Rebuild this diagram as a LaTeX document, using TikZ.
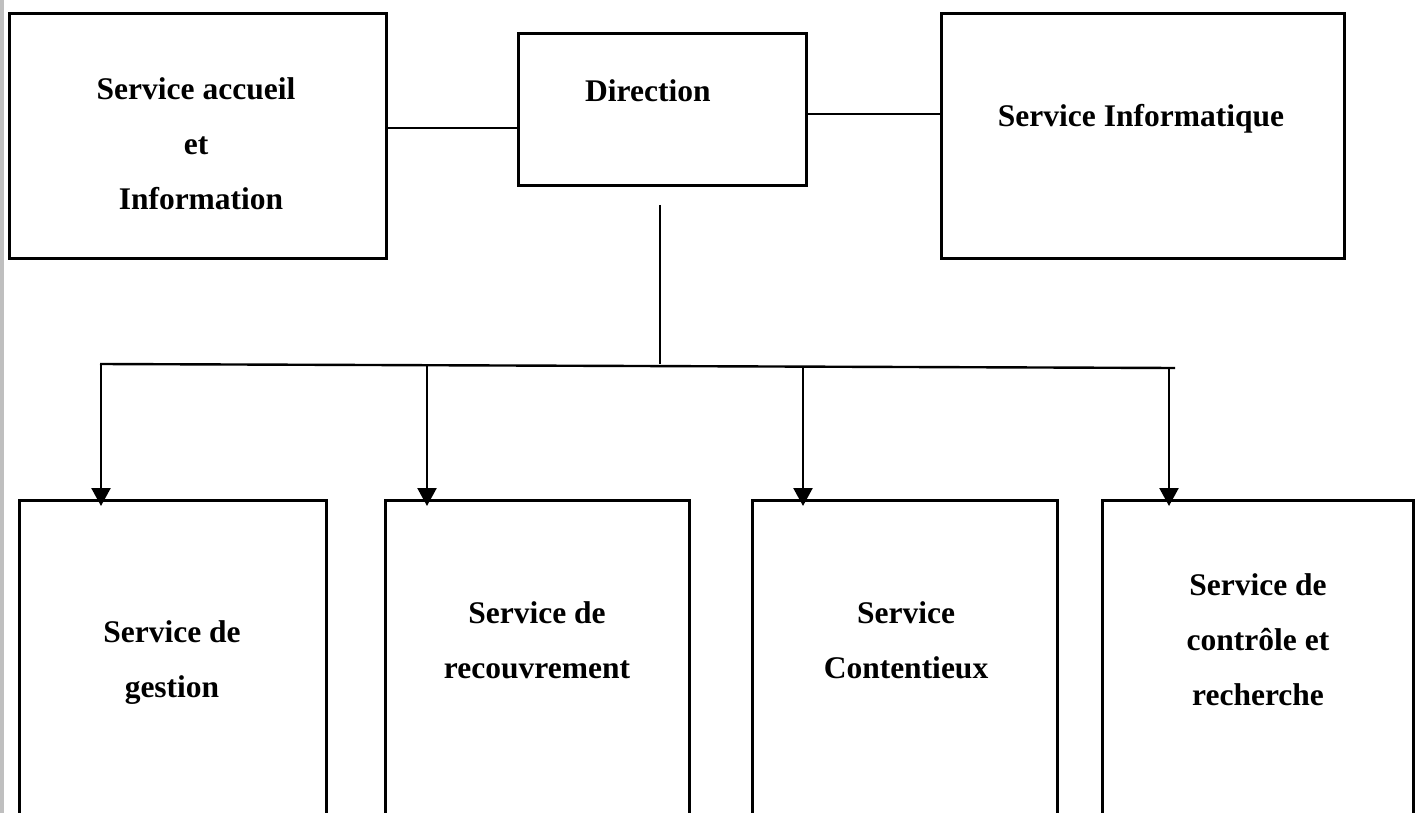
\documentclass[tikz,border=0pt]{standalone}
\usepackage{fontspec}
\setmainfont{Liberation Serif}
\usetikzlibrary{arrows.meta}
\begin{document}
\begin{tikzpicture}[x=1pt,y=-1pt,
  box/.style={draw=black, line width=3pt, anchor=north west, inner sep=0pt, outer sep=0pt},
  lbl/.style={anchor=base, inner sep=0pt, font=\fontsize{31.5}{38}\selectfont\bfseries},
  conn/.style={draw=black, line width=2.4pt},
  arr/.style={conn, -{Triangle[width=19pt,length=18pt]}, shorten >=-6pt}]
\useasboundingbox (0,0) rectangle (1416,813);
\clip (0,0) rectangle (1416,813);
\fill[black!25] (0,0) rectangle (3.5,813);
% top boxes
\node[box, minimum width=377pt, minimum height=244pt] (acc) at (9,14) {};
\node[box, minimum width=288pt, minimum height=152pt] (dir) at (518,34) {};
\node[box, minimum width=403pt, minimum height=244pt] (inf) at (941,14) {};
% bottom boxes
\node[box, minimum width=307pt, minimum height=400pt] (ges) at (19,500) {};
\node[box, minimum width=304pt, minimum height=400pt] (rec) at (385,500) {};
\node[box, minimum width=305pt, minimum height=400pt] (con) at (752,500) {};
\node[box, minimum width=311pt, minimum height=400pt] (ctl) at (1102,500) {};
% labels
\node[lbl] (acc1) at (196,100) {Service accueil};
\node[lbl] (acc2) at (196,155) {et};
\node[lbl] (acc3) at (201,210) {Information};
\node[lbl, anchor=base west] (dirt) at (585,102) {Direction};
\node[lbl] (inft) at (1141,127) {Service Informatique};
\node[lbl] (ges1) at (172,642) {Service de};
\node[lbl] (ges2) at (172,697) {gestion};
\node[lbl] (rec1) at (537,623) {Service de};
\node[lbl] (rec2) at (537,678) {recouvrement};
\node[lbl] (con1) at (906,623) {Service};
\node[lbl] (con2) at (906,678) {Contentieux};
\node[lbl] (ctl1) at (1258,595) {Service de};
\node[lbl] (ctl2) at (1258,650) {contrôle et};
\node[lbl] (ctl3) at (1258,705) {recherche};
% connectors
\draw[conn] ([yshift=8pt]acc.east) coordinate (p1) -- (p1 -| dir.west);
\draw[conn] ([yshift=-4pt]dir.east) coordinate (p2) -- (p2 -| inf.west);
\coordinate (d0) at (660,205);
\coordinate (d1) at (660,364);
\draw[conn] (d0) -- (d1);
\coordinate (bL) at (100,364);
\coordinate (bR) at (1175,368);
\draw[conn] (bL) -- (bR);
\coordinate (a1) at (101,364);
\coordinate (a2) at (427,365.2);
\coordinate (a3) at (803,366.6);
\coordinate (a4) at (1169,368);
\draw[arr] (a1) -- (a1 |- ges.north);
\draw[arr] (a2) -- (a2 |- rec.north);
\draw[arr] (a3) -- (a3 |- con.north);
\draw[arr] (a4) -- (a4 |- ctl.north);
\end{tikzpicture}
\end{document}
